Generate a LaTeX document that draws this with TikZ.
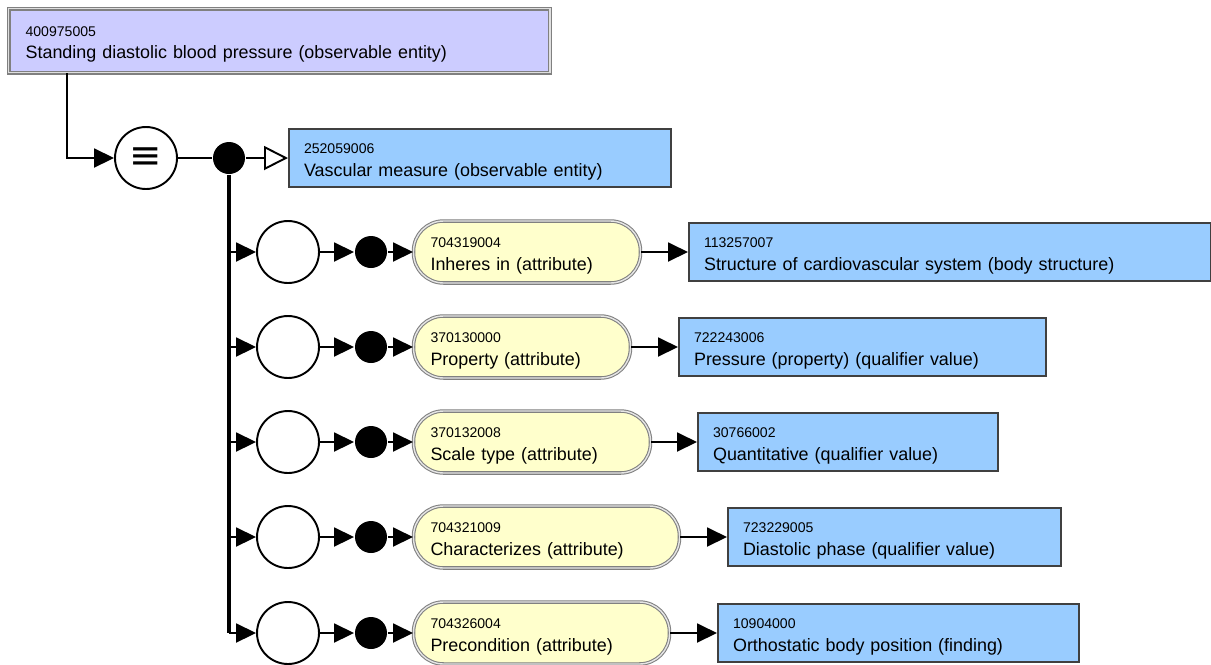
\documentclass[tikz,border=0pt]{standalone}
\usepackage{fontspec}
\setmainfont{Liberation Sans}
\newfontfamily\symfont{DejaVu Sans}
\usepackage{tikz}
\usetikzlibrary{arrows.meta,calc,positioning}
\definecolor{defbg}{HTML}{CCCCFF}
\definecolor{conceptbg}{HTML}{99CCFF}
\definecolor{attrbg}{HTML}{FFFFCC}
\newcommand{\sctid}[1]{\rule{0pt}{10pt}{\fontsize{8}{9}\selectfont #1}\\}

\begin{document}
\begin{tikzpicture}[x=0.02cm, y=-0.02cm, >={Triangle[length=4mm,width=3.8mm]}, line width=1.1pt,
	font=\fontsize{10.2}{12.8}\selectfont,
	defbox/.style={rectangle, anchor=north west, draw=gray, double=gray!25, double distance=0.8pt, line width=0.7pt, fill=defbg, align=left, inner xsep=0.34cm, minimum height=1.28cm},
	conbox/.style={rectangle, anchor=west, draw=black!75, line width=1.2pt, fill=conceptbg, align=left, inner xsep=0.3cm, minimum height=1.16cm, text width=#1},
	attbox/.style={rectangle, rounded corners=0.6cm, anchor=west, draw=gray, double=gray!20, double distance=0.8pt, line width=0.6pt, fill=attrbg, align=left, inner xsep=0.34cm, minimum height=1.24cm, text width=#1},
	eqv/.style={circle, draw, fill=white, line width=1.1pt, minimum size=1.24cm, inner sep=0pt},
	rolegroup/.style={circle, draw, fill=white, line width=1.1pt, minimum size=1.24cm, inner sep=0pt},
	conj/.style={circle, fill=black, minimum size=0.64cm, inner sep=0pt}]
	\useasboundingbox (0,0) rectangle (1211,664);
	
	\node[defbox, text width=10.15cm] (standing) at (8,8) {\sctid{400975005}Standing diastolic blood pressure (observable entity)};
	\node[eqv] (equiv) at (146,158) {\symfont\fontsize{22}{22}\selectfont ≡};
	\node[conj] (c0) at (229,158) {};
	\node[conbox=7.04cm] (vascular) at (288,158) {\sctid{252059006}Vascular measure (observable entity)};
	
	\node[rolegroup] (g1) at (288,252) {};
	\node[rolegroup] (g2) at (288,347) {};
	\node[rolegroup] (g3) at (288,442) {};
	\node[rolegroup] (g4) at (288,537) {};
	\node[rolegroup] (g5) at (288,633) {};
	
	\node[conj] (a1) at (371,252) {};
	\node[conj] (a2) at (371,347) {};
	\node[conj] (a3) at (371,442) {};
	\node[conj] (a4) at (371,537) {};
	\node[conj] (a5) at (371,633) {};
	
	\node[attbox=3.86cm] (inheres) at (413,252) {\sctid{704319004}Inheres in (attribute)};
	\node[attbox=3.66cm] (property) at (413,347) {\sctid{370130000}Property (attribute)};
	\node[attbox=4.06cm] (scaletype) at (413,442) {\sctid{370132008}Scale type (attribute)};
	\node[attbox=4.64cm] (characterizes) at (413,537) {\sctid{704321009}Characterizes (attribute)};
	\node[attbox=4.44cm] (precondition) at (413,633) {\sctid{704326004}Precondition (attribute)};
	
	\node[conbox=9.84cm] (cardio) at (688,252) {\sctid{113257007}Structure of cardiovascular system (body structure)};
	\node[conbox=6.74cm] (pressure) at (678,347) {\sctid{722243006}Pressure (property) (qualifier value)};
	\node[conbox=5.4cm] (quant) at (697,442) {\sctid{30766002}Quantitative (qualifier value)};
	\node[conbox=6.06cm] (diastolic) at (727,537) {\sctid{723229005}Diastolic phase (qualifier value)};
	\node[conbox=6.62cm] (orthostatic) at (717,633) {\sctid{10904000}Orthostatic body position (finding)};
	
	\draw[->] ([xshift=1.18cm]standing.south west) |- (equiv);
	\draw (equiv) -- (c0);
	\draw[-{Triangle[open,length=4.8mm,width=4.8mm]}] (c0) -- (vascular);
	\draw[line width=2.2pt] (c0) -- (c0 |- g5);
	
	\draw[->] (c0 |- g1) -- (g1);
	\draw[->] (c0 |- g2) -- (g2);
	\draw[->] (c0 |- g3) -- (g3);
	\draw[->] (c0 |- g4) -- (g4);
	\draw[->] (c0 |- g5) -- (g5);
	
	\draw[->] (g1) -- (a1);
	\draw[->] (g2) -- (a2);
	\draw[->] (g3) -- (a3);
	\draw[->] (g4) -- (a4);
	\draw[->] (g5) -- (a5);
	
	\draw[->] (a1) -- (inheres);
	\draw[->] (a2) -- (property);
	\draw[->] (a3) -- (scaletype);
	\draw[->] (a4) -- (characterizes);
	\draw[->] (a5) -- (precondition);
	
	\draw[->] (inheres) -- (cardio);
	\draw[->] (property) -- (pressure);
	\draw[->] (scaletype) -- (quant);
	\draw[->] (characterizes) -- (diastolic);
	\draw[->] (precondition) -- (orthostatic);
\end{tikzpicture}
\end{document}
